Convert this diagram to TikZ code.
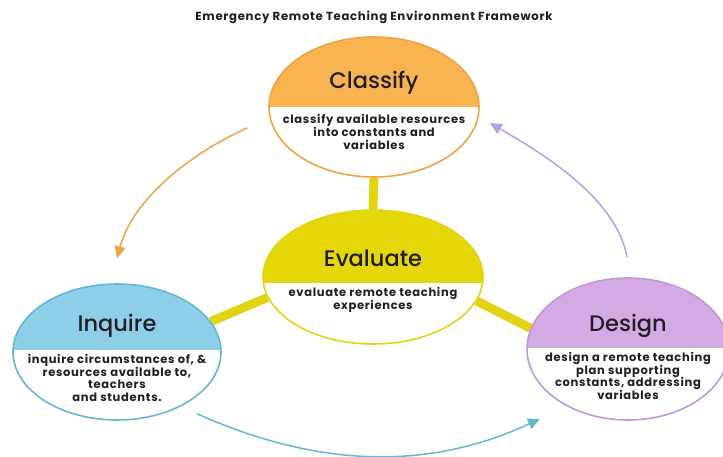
\documentclass[tikz,border=0pt]{standalone}
\usepackage{fontspec}
\setmainfont{Poppins}
\newfontfamily\headfont{Poppins Medium}
\usetikzlibrary{positioning,shapes.geometric,arrows.meta}

\definecolor{ink}{RGB}{35,30,38}
\definecolor{classifyfill}{RGB}{247,180,81}
\definecolor{classifyline}{RGB}{238,163,68}
\definecolor{evalfill}{RGB}{229,215,10}
\definecolor{evalline}{RGB}{226,212,20}
\definecolor{inquirefill}{RGB}{141,207,232}
\definecolor{inquireline}{RGB}{98,184,212}
\definecolor{designfill}{RGB}{212,170,228}
\definecolor{designline}{RGB}{190,152,216}
\definecolor{designarrow}{RGB}{184,158,226}

\pgfdeclarelayer{background}
\pgfsetlayers{background,main}

\tikzset{
  phase/.style n args={3}{ellipse, draw=#1, line width=1.6pt, fill=white,
    inner sep=0pt, path picture={\fill[#2] (path picture bounding box.north
      west) rectangle ([yshift=#3]path picture bounding box.east);}},
  phasetitle/.style={text=ink, font=\headfont\fontsize{22.5}{24}\selectfont},
  phasetext/.style={text=ink, align=center,
    font=\bfseries\fontsize{11.5}{12.6}\selectfont\addfontfeatures{LetterSpace=6}},
  link/.style={draw=evalline, line width=9pt},
  flow/.style={line width=1.5pt, >={Triangle[length=12pt, width=11pt]}}
}

\begin{document}
\begin{tikzpicture}[x=1pt, y=1pt]
  \useasboundingbox (0,0) rectangle (723,457);

  \node (heading) at (374,440) [text=ink,
  font=\bfseries\fontsize{11.7}{12}\selectfont\addfontfeatures{LetterSpace=6}]
  {Emergency Remote Teaching Environment Framework};

  \node (classify) [phase={classifyline}{classifyfill}{0pt}, minimum
  width=210pt, minimum height=140pt] at (374,350) {};
  \node (evaluate) [phase={evalline}{evalfill}{-6pt}, minimum width=220pt,
  minimum height=134pt] at (373,180) {};
  \node (inquire) [phase={inquireline}{inquirefill}{2pt}, minimum width=208pt,
  minimum height=136pt] at (117,105) {};
  \node (design) [phase={designline}{designfill}{1pt}, minimum width=202pt,
  minimum height=142pt] at (628,108) {};

  \node (classify title) [phasetitle] at ([yshift=24pt]classify.center) {Classify};
  \node (classify text) [phasetext] at ([yshift=-25pt]classify.center)
  {classify available resources\\into constants and\\variables};

  \node (evaluate title) [phasetitle] at ([yshift=19pt]evaluate.center) {Evaluate};
  \node (evaluate text) [phasetext] at ([yshift=-23pt]evaluate.center)
  {evaluate remote teaching\\experiences};

  \node (inquire title) [phasetitle] at ([yshift=26pt]inquire.center) {Inquire};
  \node (inquire text) [phasetext] at ([yshift=-26pt]inquire.center)
  {inquire circumstances of, \&\\resources available to,\\teachers\\and students.};

  \node (design title) [phasetitle] at ([yshift=23pt]design.center) {Design};
  \node (design text) [phasetext] at ([yshift=-27pt]design.center)
  {design a remote teaching\\plan supporting\\constants, addressing\\variables};

  \begin{pgfonlayer}{background}
    \path[link] (classify.south) edge (evaluate.north)
    (evaluate.191) edge (inquire.18)
    (evaluate.347) edge (design.168);
  \end{pgfonlayer}

  \draw[->, flow, classifyline] ([shift={(-21,-21)}]classify.west)
  to[out=204, in=75, looseness=0.85] ([yshift=25pt]inquire.north);

  \draw[->, flow, inquireline] ([shift={(80,7)}]inquire.south)
  to[out=336, in=205, looseness=0.95] ([shift={(-88,2)}]design.south);

  \draw[->, flow, designarrow] ([shift={(-1,20)}]design.north)
  to[out=100, in=330, looseness=0.8] ([shift={(10,-16)}]classify.east);
\end{tikzpicture}
\end{document}
